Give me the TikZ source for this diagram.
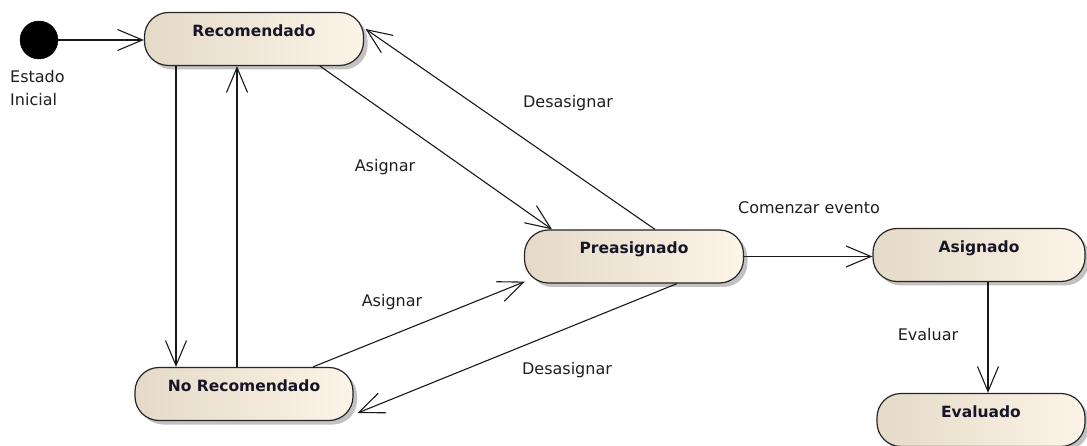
\documentclass[tikz,border=0pt]{standalone}
\usepackage{fontspec}
\setmainfont{DejaVu Sans}
\usetikzlibrary{arrows.meta,shadows}

\definecolor{stL}{RGB}{229,218,200}
\definecolor{stR}{RGB}{252,244,231}
\definecolor{stText}{RGB}{22,22,40}
\definecolor{lblText}{RGB}{30,30,30}

\begin{document}
\begin{tikzpicture}[x=1pt,y=-1pt]
\tikzset{
  state/.style={rectangle, rounded corners=24pt, draw=black!85, line width=1.2pt,
    left color=stL, right color=stR,
    drop shadow={shadow xshift=4pt, shadow yshift=-4pt, opacity=0.4, fill=black!60},
    inner sep=0pt, text height=24pt, text depth=29pt,
    font=\fontsize{15.5}{18}\selectfont\bfseries, text=stText},
  initial/.style={circle, fill=black, draw=black, minimum size=38pt, inner sep=0pt},
  trans/.style={-{Straight Barb[length=25pt,width=21pt]}, line width=1.1pt, black!90},
  lbl/.style={font=\fontsize{16}{23}\selectfont, text=lblText, inner sep=0pt}
}
\useasboundingbox (0,0) rectangle (1087,446);

% states
\node[initial] (init) at (39,40) {};
\node[state, minimum width=219pt] (rec)  at (254,39)    {Recomendado};
\node[state, minimum width=219pt] (pre)  at (634,256.5) {Preasignado};
\node[state, minimum width=212pt] (asg)  at (979,255)   {Asignado};
\node[state, minimum width=208pt] (evl)  at (981,420)   {Evaluado};
\node[state, minimum width=218pt] (nrec) at (244,394)   {No Recomendado};

% initial state caption
\node[lbl, align=left, anchor=north west] (initcap) at (10,70) {Estado\\Inicial};

% transitions
\draw[trans] (init.east) -- (init.east -| rec.west);
\draw[trans] ([xshift=-78pt]rec.south) -- ([xshift=-78pt]rec.south |- nrec.north);
\draw[trans] ([xshift=-7pt]nrec.north) -- ([xshift=-7pt]nrec.north |- rec.south);
\draw[trans] ([xshift=66pt]rec.south) -- ([xshift=-82pt]pre.north);
\draw[trans] ([xshift=21pt]pre.north) -- ([xshift=1.5pt,yshift=10pt]rec.east);
\draw[trans] ([xshift=69pt]nrec.north) -- ([xshift=1pt,yshift=2pt]pre.south west);
\draw[trans] ([xshift=43pt]pre.south) -- ([xshift=4pt,yshift=-19pt]nrec.east);
\draw[trans] (pre.east) -- (pre.east -| asg.west);
\draw[trans] ([xshift=9pt]asg.south) -- ([xshift=9pt]asg.south |- evl.north);

% transition labels
\node[lbl] (l1) at (385,167) {Asignar};
\node[lbl] (l2) at (568,103) {Desasignar};
\node[lbl] (l3) at (392,302) {Asignar};
\node[lbl] (l4) at (567,370) {Desasignar};
\node[lbl] (l5) at (809,208) {Comenzar evento};
\node[lbl] (l6) at (928,335) {Evaluar};
\end{tikzpicture}
\end{document}
